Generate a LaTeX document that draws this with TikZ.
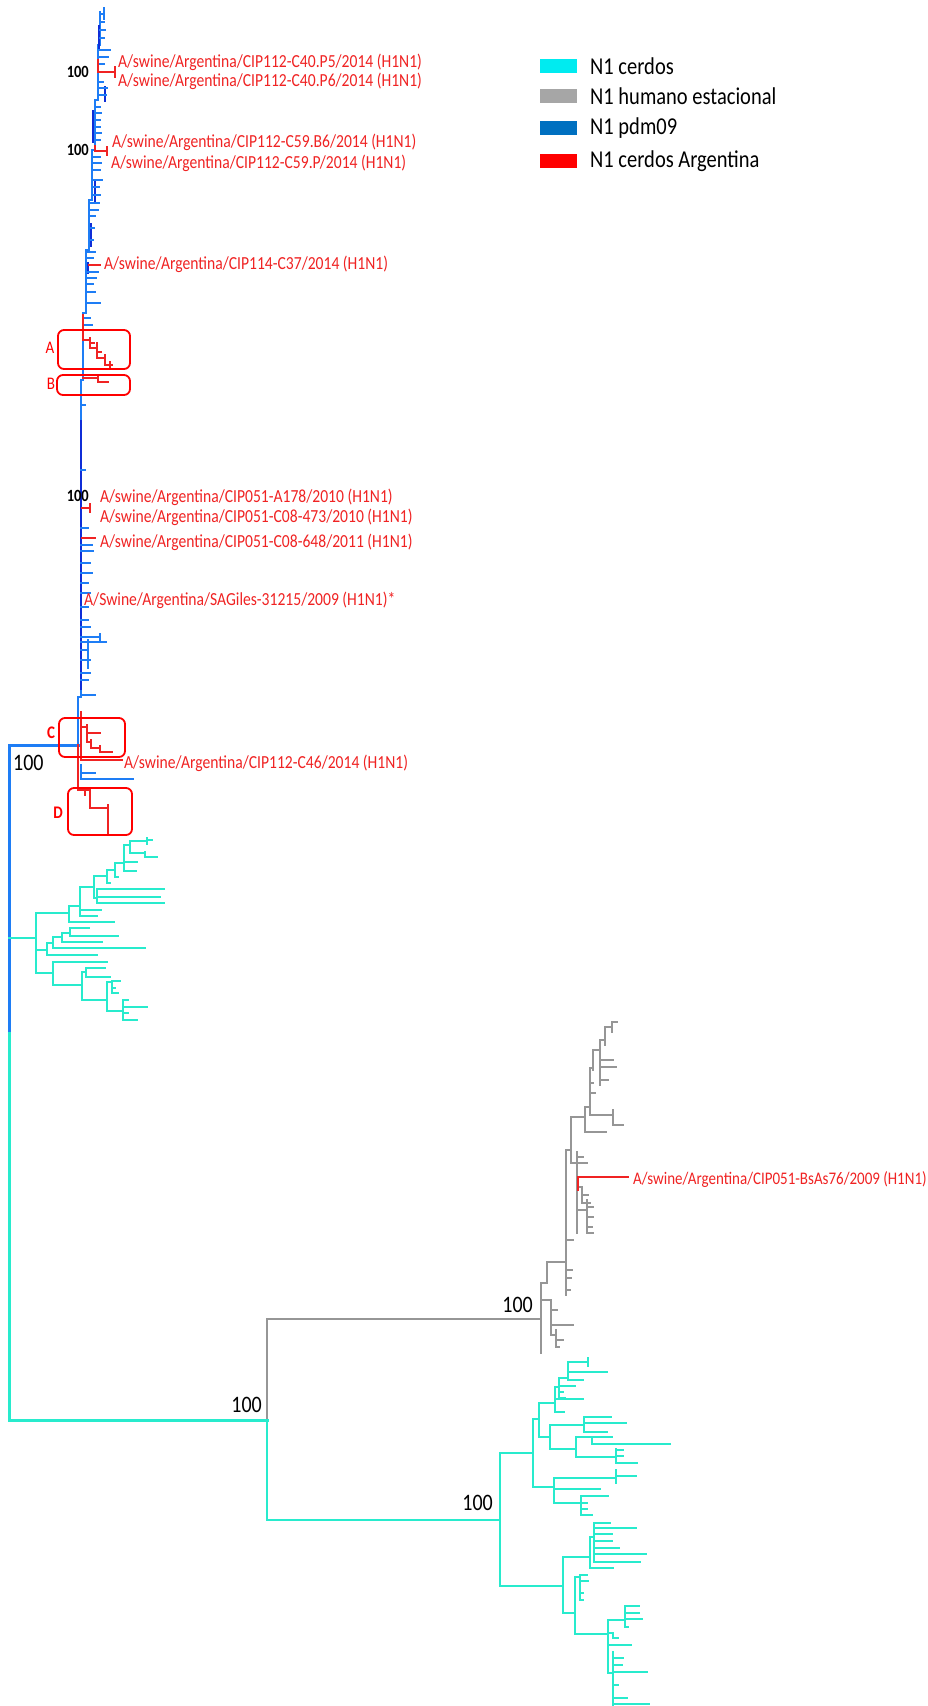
\documentclass[tikz,border=0pt]{standalone}
\usepackage{fontspec}
\setmainfont{Carlito}
\usepackage{graphicx}
\usetikzlibrary{positioning}

\definecolor{pdmblue}{RGB}{30,125,245}
\definecolor{pdmnavy}{RGB}{15,45,215}
\definecolor{argred}{RGB}{240,35,35}
\definecolor{cerdocyan}{RGB}{40,235,205}
\definecolor{humgray}{RGB}{150,150,150}
\definecolor{legcyan}{RGB}{0,235,240}
\definecolor{leggray}{RGB}{166,166,166}
\definecolor{legblue}{RGB}{0,112,192}
\definecolor{legred}{RGB}{255,0,0}

\newcommand{\tall}[1]{\scalebox{1}[1.18]{#1}}

\tikzset{
  pdm/.style={draw=pdmblue, line width=2.2pt, line cap=rect},
  pdmdark/.style={draw=pdmnavy, line width=2.6pt},
  arg/.style={draw=argred, line width=2pt, line cap=rect},
  cerdo/.style={draw=cerdocyan, line width=2.6pt, line cap=rect},
  hum/.style={draw=humgray, line width=1.8pt, line cap=rect},
  taxon/.style={anchor=west, inner sep=0pt, text=argred, font=\fontsize{15.6}{18}\selectfont},
  boot/.style={anchor=east, inner sep=0pt, font=\bfseries\fontsize{14.5}{17}\selectfont},
  bigboot/.style={anchor=east, inner sep=0pt, font=\fontsize{20}{24}\selectfont},
  clbox/.style={draw=red, line width=1.8pt, rounded corners=6pt},
  cllabel/.style={text=red, inner sep=0pt, font=\fontsize{15}{18}\selectfont},
  legtext/.style={anchor=west, inner sep=0pt, font=\fontsize{20.5}{24}\selectfont},
}

\begin{document}
\begin{tikzpicture}[x=1pt, y=-1pt]
    % Page
    \fill[white] (0,0) rectangle (928,1706);
    \useasboundingbox (0,0) rectangle (928,1706);

    % Legend
    \foreach \col/\yy/\txt [count=\i] in {legcyan/66/N1 cerdos, leggray/96/N1 humano estacional, legblue/128/N1 pdm09, legred/161/N1 cerdos Argentina} {
        \fill[\col] (540,\yy-7) rectangle (577,\yy+7);
        \node[legtext] (leg\i) at (590,\yy) {\tall{\txt}};
    }

    % Root
    \draw[pdm, line width=3pt] (9,1033) -- (9,745) -- (78,745);
    \draw[cerdo, line width=3pt] (9,1033) -- (9,1420) -- (267,1420);

    % pdm09 trunk
    \draw[pdm] (100,12) -- (100,45) -- (98,45) -- (98,100) -- (95,100) -- (95,150) -- (92,150)
        -- (92,200) -- (89,200) -- (89,250) -- (86,250) -- (86,313) -- (83,313) -- (83,380)
        -- (81,380) -- (81,697) -- (78,697) -- (78,745);
    \draw[pdm, line width=1.6pt] (100,14) -- (104,14) (104,8) -- (104,19);
    \draw[pdmdark] (99,25) -- (99,50) (105,86) -- (105,102) (93,110) -- (93,143) (95,180) -- (95,203)
        (91,223) -- (91,247) (88,262) -- (88,274) (81,420) -- (81,690);

    % pdm09 leaves
    \foreach \ty/\tx/\te in {22/100/104, 30/100/105, 38/100/104, 50/98/110, 57/98/108, 64/98/104,
        82/98/103, 88/98/107, 95/98/106, 107/95/100, 113/95/101, 120/95/100, 127/95/100, 133/95/101,
        140/95/100, 157/92/100, 163/92/101, 170/92/100, 180/92/102, 187/92/99, 195/92/100,
        203/89/99, 210/89/98, 216/89/95, 228/89/94, 240/89/93, 252/86/95, 258/86/93, 272/86/98,
        278/86/96, 284/86/93, 292/86/95, 303/86/100, 318/83/90, 325/83/92, 405/81/85, 470/81/85,
        528/81/88, 545/81/92, 551/81/93, 563/81/90, 573/81/92, 583/81/88, 593/81/90, 607/81/88,
        620/81/88, 627/81/90, 637/81/100, 642/81/106, 650/81/88, 660/81/90, 673/81/90, 680/81/88,
        695/81/95}
        \draw[pdm, line width=1.6pt] (\tx,\ty) -- (\te,\ty);
    \draw[pdm, line width=1.6pt] (100,634) -- (100,640) (88,640) -- (88,668);
    \draw[pdm] (81,765) -- (81,779) (81,773) -- (95,773) (81,779) -- (133,779);

    % Argentina in pdm09
    \draw[arg] (98,60) -- (98,72) -- (115,72) (115,67) -- (115,77);
    \draw[arg] (95,146) -- (95,151) -- (107,151) (107,147) -- (107,155);
    \draw[arg] (89,265) -- (100,265);
    \draw[arg] (83,315) -- (83,340) -- (90,340) (90,338) -- (90,348) -- (97,348) (90,343) -- (94,343)
        (97,343) -- (97,358) -- (105,358) (97,352) -- (101,352) (105,355) -- (105,365) -- (112,365)
        (110,362) -- (110,368);
    \draw[arg] (83,378) -- (98,378) (98,376) -- (98,382) -- (108,382);
    \draw[arg] (82,508) -- (90,508) (90,504) -- (90,512);
    \draw[arg] (82,538) -- (95,538);
    \draw[arg] (81,712) -- (81,760) (81,727) -- (87,727) (87,725) -- (87,742) (87,733) -- (100,733)
        (87,742) -- (91,742) (91,740) -- (91,748) -- (100,748) (100,746) -- (100,752) -- (112,752);
    \draw[arg] (81,760) -- (122,760);
    \draw[arg] (78,745) -- (78,790) -- (90,790) (85,788) -- (85,795) (90,788) -- (90,808) -- (108,808)
        (108,805) -- (108,833);

    % Clusters A-D
    \draw[clbox] (58,330) rectangle (130,369);
    \draw[clbox] (57,375) rectangle (130,395);
    \draw[clbox] (59,718) rectangle (125,757);
    \draw[clbox] (68,788) rectangle (132,835);
    \node[cllabel] (clA) at (50,348) {\tall{A}};
    \node[cllabel] (clB) at (51,384) {\tall{B}};
    \node[cllabel] (clC) at (51,733) {\tall{\bfseries C}};
    \node[cllabel] (clD) at (58,813) {\tall{\bfseries D}};

    % Swine clade 1
    \draw[cerdo] (9,938) -- (36,938) (36,913) -- (36,973) (36,913) -- (69,913)
        (69,906) -- (69,922) (69,906) -- (80,906) (69,922) -- (114,922)
        (80,887) -- (80,916) (80,887) -- (94,887) (80,916) -- (97,916) (80,910) -- (101,910)
        (94,876) -- (94,898) (94,876) -- (107,876) (94,898) -- (97,898)
        (97,889) -- (97,903) (97,889) -- (164,889) (97,897) -- (160,897) (97,903) -- (164,903)
        (107,870) -- (107,883) (107,870) -- (115,870) (107,883) -- (110,883)
        (115,863) -- (115,877) (115,863) -- (124,863) (115,877) -- (118,877)
        (124,845) -- (124,871) (124,845) -- (130,845) (124,862) -- (137,862) (124,871) -- (136,871)
        (130,841) -- (130,853) (130,841) -- (147,841) (147,838) -- (147,844) (147,840) -- (152,840)
        (130,853) -- (145,853) (145,852) -- (145,857) (145,857) -- (157,857);
    \draw[cerdo] (36,950) -- (47,950) (47,943) -- (47,955) (47,943) -- (53,943)
        (53,937) -- (53,948) (53,937) -- (62,937) (53,948) -- (145,948)
        (62,933) -- (62,942) (62,933) -- (70,933) (62,942) -- (102,942)
        (70,928) -- (70,936) (70,928) -- (89,928) (70,936) -- (118,936)
        (47,955) -- (97,955);
    \draw[cerdo] (36,973) -- (53,973) (53,962) -- (53,985) (53,962) -- (107,962) (53,985) -- (82,985)
        (82,972) -- (82,1000) (82,972) -- (86,972) (86,968) -- (86,977) (86,968) -- (105,968)
        (86,977) -- (110,977) (82,1000) -- (107,1000)
        (107,982) -- (107,1011) (107,982) -- (112,982) (112,981) -- (112,993) (112,981) -- (120,981)
        (112,988) -- (115,988) (112,993) -- (118,993) (107,1011) -- (123,1011)
        (123,1000) -- (123,1020) (123,1000) -- (128,1000) (123,1007) -- (147,1007)
        (123,1013) -- (128,1013) (123,1020) -- (137,1020);

    % Human seasonal clade
    \draw[hum] (267,1420) -- (267,1319) -- (541,1319);
    \draw[hum] (541,1283) -- (541,1353) (541,1283) -- (547,1283) (547,1262) -- (547,1283)
        (547,1262) -- (566,1262) (566,1150) -- (566,1295)
        (566,1240) -- (573,1240) (566,1270) -- (572,1270) (566,1278) -- (571,1278) (566,1290) -- (570,1290)
        (541,1300) -- (551,1300) (551,1300) -- (551,1335) (551,1310) -- (557,1310) (551,1325) -- (573,1325)
        (551,1335) -- (556,1335) (556,1330) -- (556,1347) (556,1340) -- (563,1340) (556,1347) -- (559,1347)
        (566,1150) -- (571,1150) (571,1117) -- (571,1163) (571,1163) -- (577,1163)
        (577,1152) -- (577,1233) (577,1157) -- (583,1157) (577,1163) -- (587,1163)
        (577,1187) -- (582,1187) (582,1187) -- (582,1203) (582,1195) -- (588,1195) (582,1203) -- (590,1203)
        (577,1210) -- (587,1210) (587,1200) -- (587,1233) (587,1207) -- (593,1207)
        (587,1217) -- (593,1217) (587,1227) -- (592,1227) (587,1233) -- (593,1233)
        (571,1117) -- (585,1117) (585,1107) -- (585,1132) (585,1132) -- (606,1132)
        (585,1107) -- (590,1107) (590,1068) -- (590,1115) (590,1115) -- (613,1115)
        (613,1110) -- (613,1125) (613,1125) -- (623,1125) (590,1083) -- (593,1083) (590,1093) -- (595,1093)
        (590,1068) -- (593,1068) (593,1050) -- (593,1070) (593,1050) -- (600,1050)
        (600,1040) -- (600,1085) (600,1060) -- (613,1060) (600,1067) -- (616,1067) (600,1080) -- (608,1080)
        (600,1040) -- (605,1040) (605,1027) -- (605,1045) (605,1027) -- (612,1027)
        (612,1022) -- (612,1032) (612,1022) -- (617,1022);
    \draw[arg] (578,1177) -- (628,1177) (578,1177) -- (578,1190);

    % Swine clade 2
    \draw[cerdo] (267,1420) -- (267,1520) -- (500,1520) (500,1453) -- (500,1586)
        (500,1453) -- (533,1453) (533,1419) -- (533,1487) (533,1419) -- (539,1419)
        (539,1403) -- (539,1437) (539,1403) -- (555,1403) (555,1387) -- (555,1412) (555,1387) -- (559,1387)
        (559,1378) -- (559,1398) (559,1378) -- (568,1378) (568,1362) -- (568,1380) (568,1362) -- (588,1362)
        (588,1358) -- (588,1366) (568,1372) -- (607,1372) (568,1380) -- (583,1380)
        (559,1386) -- (575,1386) (559,1392) -- (563,1392) (559,1398) -- (565,1398)
        (555,1399) -- (583,1399) (555,1412) -- (564,1412)
        (539,1437) -- (550,1437) (550,1425) -- (550,1449) (550,1425) -- (584,1425)
        (584,1417) -- (584,1432) (584,1417) -- (611,1417) (584,1423) -- (626,1423) (584,1432) -- (607,1432)
        (550,1449) -- (576,1449) (576,1437) -- (576,1457) (576,1437) -- (612,1437)
        (592,1437) -- (592,1444) (592,1444) -- (670,1444)
        (576,1457) -- (616,1457) (616,1449) -- (616,1463) (616,1450) -- (623,1450)
        (616,1456) -- (623,1456) (616,1463) -- (637,1463)
        (533,1487) -- (554,1487) (554,1478) -- (554,1503) (554,1478) -- (616,1478)
        (616,1470) -- (616,1483) (616,1476) -- (636,1476) (554,1489) -- (600,1489)
        (554,1503) -- (581,1503) (581,1496) -- (581,1515) (581,1496) -- (608,1496)
        (581,1503) -- (587,1503) (581,1509) -- (587,1509) (581,1515) -- (592,1515);
    \draw[cerdo] (500,1586) -- (563,1586) (563,1557) -- (563,1613) (563,1557) -- (590,1557)
        (590,1537) -- (590,1568) (590,1537) -- (594,1537) (594,1523) -- (594,1562)
        (594,1523) -- (610,1523) (594,1528) -- (636,1528) (594,1534) -- (612,1534) (594,1541) -- (612,1541)
        (594,1548) -- (619,1548) (594,1554) -- (646,1554) (594,1562) -- (640,1562) (590,1568) -- (613,1568)
        (563,1613) -- (575,1613) (575,1577) -- (575,1634) (575,1577) -- (580,1577)
        (580,1575) -- (580,1600) (580,1575) -- (587,1575) (580,1581) -- (588,1581)
        (580,1593) -- (583,1593) (580,1600) -- (583,1600)
        (575,1634) -- (608,1634) (608,1620) -- (608,1673) (608,1620) -- (625,1620)
        (625,1606) -- (625,1627) (625,1606) -- (639,1606) (625,1613) -- (639,1613)
        (625,1619) -- (642,1619) (625,1627) -- (628,1627)
        (608,1633) -- (613,1633) (613,1633) -- (613,1638) (613,1638) -- (618,1638)
        (608,1645) -- (631,1645) (608,1673) -- (613,1673) (613,1652) -- (613,1706)
        (613,1658) -- (623,1658) (613,1665) -- (622,1665) (613,1672) -- (647,1672)
        (613,1685) -- (618,1685) (613,1698) -- (627,1698) (613,1704) -- (649,1704);

    % Bootstrap values
    \node[boot] (b1) at (89,72) {\tall{100}};
    \node[boot] (b2) at (89,150) {\tall{100}};
    \node[boot] (b3) at (89,496) {\tall{100}};
    \node[bigboot, anchor=west] (b4) at (13,763) {\tall{100}};
    \node[bigboot] (b5) at (262,1405) {\tall{100}};
    \node[bigboot] (b6) at (533,1305) {\tall{100}};
    \node[bigboot] (b7) at (493,1503) {\tall{100}};

    % Argentine strains
    \node[taxon] (s1) at (118,62) {\tall{A/swine/Argentina/CIP112-C40.P5/2014 (H1N1)}};
    \node[taxon] (s2) at (118,81) {\tall{A/swine/Argentina/CIP112-C40.P6/2014 (H1N1)}};
    \node[taxon] (s3) at (112,142) {\tall{A/swine/Argentina/CIP112-C59.B6/2014 (H1N1)}};
    \node[taxon] (s4) at (111,163) {\tall{A/swine/Argentina/CIP112-C59.P/2014 (H1N1)}};
    \node[taxon] (s5) at (104,264) {\tall{A/swine/Argentina/CIP114-C37/2014 (H1N1)}};
    \node[taxon] (s6) at (100,497) {\tall{A/swine/Argentina/CIP051-A178/2010 (H1N1)}};
    \node[taxon] (s7) at (100,517) {\tall{A/swine/Argentina/CIP051-C08-473/2010 (H1N1)}};
    \node[taxon] (s8) at (100,542) {\tall{A/swine/Argentina/CIP051-C08-648/2011 (H1N1)}};
    \node[taxon] (s9) at (84,600) {\tall{A/Swine/Argentina/SAGiles-31215/2009 (H1N1)*}};
    \node[taxon] (s10) at (124,763) {\tall{A/swine/Argentina/CIP112-C46/2014 (H1N1)}};
    \node[taxon, font=\fontsize{15}{18}\selectfont] (s11) at (633,1180) {\tall{A/swine/Argentina/CIP051-BsAs76/2009 (H1N1)}};
\end{tikzpicture}
\end{document}
